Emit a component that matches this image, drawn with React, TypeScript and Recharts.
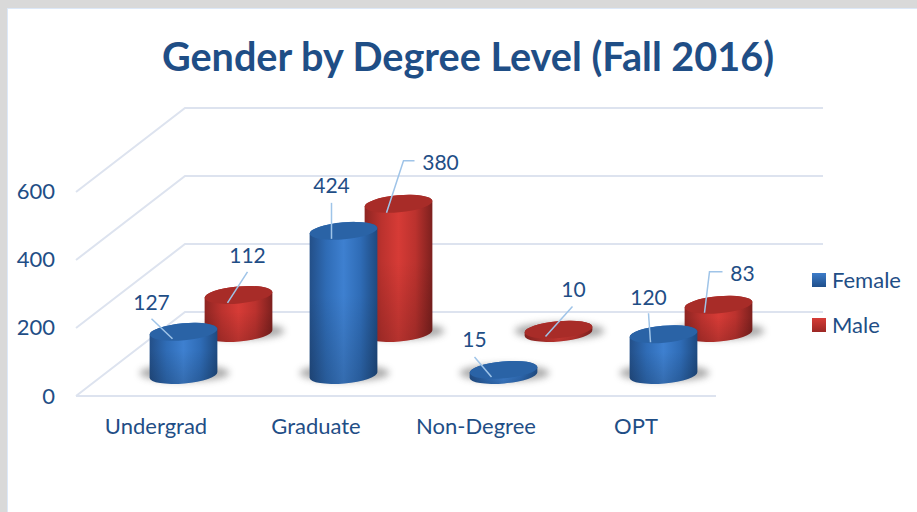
import { BarChart, Bar, XAxis, YAxis, CartesianGrid, Legend, LabelList } from "recharts";

const categories = ["Undergrad", "Graduate", "Non-Degree", "OPT"];
const femaleValues = [127, 424, 15, 120];
const maleValues = [112, 380, 10, 83];
const yTicks = [0, 200, 400, 600];

const chartData = categories.map((name, i) => ({
  name,
  Female: femaleValues[i],
  Male: maleValues[i],
}));

const FONT = "Lato, sans-serif";
const TEXT_COLOR = "#1f4e86";
const GRID_COLOR = "#dde3ef";
const LEADER_COLOR = "#9fc4e8";

// how far each series sits from its slot on the floor of the 3d box
const FEMALE_DEPTH = { dx: -0.5, dy: -21 };
const MALE_DEPTH = { dx: 109.5, dy: -63 };
const WALL = { dx: 109, dy: -84 };

// data label placement relative to the top of the cylinder, hand moved in the original
const femaleCallouts = [
  { label: [-32, -30], line: [[-32, -13], [-11, 7]] },
  { label: [-12, -46], line: [[-12, -28], [-12, 8]] },
  { label: [-29, -31], line: [[-29, -13], [-12, 7]] },
  { label: [-15, -38], line: [[-15, -21], [-13, 8]] },
];
const maleCallouts = [
  { label: [9, -40], line: [[9, -23], [-11, 8]] },
  { label: [42, -42], line: [[16, -43], [5, -43], [-12, 9]] },
  { label: [15, -41], line: [[14, -23], [-13, 7]] },
  { label: [24, -32], line: [[4, -33], [-9, -33], [-14, 8]] },
];

const RY = 8.5;
const TILT = -5;

const Cylinder = (props: any) => {
  const { x, y, width, height, depth, body, top } = props;
  const rx = width / 2;
  const cx = x + rx + depth.dx;
  const yTop = y + depth.dy;
  const yBase = y + height + depth.dy;
  const ex = rx * Math.cos((TILT * Math.PI) / 180);
  const ey = rx * Math.sin((TILT * Math.PI) / 180);
  const arc = `${rx} ${RY} ${TILT}`;
  const d =
    `M ${cx - ex} ${yTop - ey} L ${cx - ex} ${yBase - ey} ` +
    `A ${arc} 0 0 ${cx + ex} ${yBase + ey} L ${cx + ex} ${yTop + ey} ` +
    `A ${arc} 0 0 ${cx - ex} ${yTop - ey} Z`;
  return (
    <g>
      <ellipse cx={cx + 1} cy={yBase - 2} rx={rx + 11} ry={RY} fill="#666" opacity={0.55} filter="url(#floorShadow)" />
      <path d={d} fill={body} />
      <path d={d} fill="url(#bodyShade)" />
      <ellipse cx={cx} cy={yTop} rx={rx} ry={RY} fill={top} transform={`rotate(${TILT} ${cx} ${yTop})`} />
    </g>
  );
};

const Callout = (props: any) => {
  const { x, y, width, value, index, depth, callouts } = props;
  const c = callouts[index];
  const cx = x + width / 2 + depth.dx;
  const cy = y + depth.dy;
  const pts = c.line.map((p: number[]) => `${cx + p[0]},${cy + p[1]}`).join(" ");
  return (
    <g>
      <polyline points={pts} fill="none" stroke={LEADER_COLOR} strokeWidth={1.5} />
      <text
        x={cx + c.label[0]}
        y={cy + c.label[1]}
        textAnchor="middle"
        dominantBaseline="central"
        fontFamily={FONT}
        fontSize={21}
        fill={TEXT_COLOR}
      >
        {value}
      </text>
    </g>
  );
};

const GridLine = (props: any) => {
  const { x1, y1, x2 } = props;
  const backY = y1 + WALL.dy;
  return (
    <path
      key={props.key}
      d={`M ${x1} ${y1} L ${x1 + WALL.dx} ${backY} L ${x2 + 107} ${backY}`}
      fill="none"
      stroke={GRID_COLOR}
      strokeWidth={2}
    />
  );
};

const YTick = (props: any) => {
  const { x, y, payload } = props;
  return (
    <text
      x={x}
      y={y}
      dy={payload.value === 0 ? -1 : -2}
      textAnchor="end"
      dominantBaseline="central"
      fontFamily={FONT}
      fontSize={22}
      fill={TEXT_COLOR}
    >
      {payload.value}
    </text>
  );
};

const swatches: Record<string, string> = {
  Female: "url(#femaleSwatch)",
  Male: "url(#maleSwatch)",
};

const LegendBox = (props: any) => {
  const items = [...props.payload].sort((a: any, b: any) => String(a.value).localeCompare(String(b.value)));
  return (
    <div style={{ fontFamily: FONT, fontSize: 22, color: TEXT_COLOR }}>
      {items.map((item: any) => (
        <div key={item.value} style={{ display: "flex", alignItems: "center", height: 45 }}>
          <svg width={14} height={14} style={{ marginRight: 6 }}>
            <rect width={14} height={14} fill={swatches[item.value]} />
          </svg>
          {item.value}
        </div>
      ))}
    </div>
  );
};

export default function App() {
  return (
    <div style={{ position: "absolute", left: 0, top: 0, width: 917, height: 512, background: "#d9d9d9", overflow: "hidden" }}>
      <div
        style={{
          position: "absolute",
          left: 7,
          top: 8,
          width: 910,
          height: 504,
          background: "#fff",
          borderTop: "1px solid #dce8f8",
          borderLeft: "1px solid #dce8f8",
          boxSizing: "border-box",
        }}
      />
      <div
        style={{
          position: "absolute",
          left: 0,
          width: 936,
          top: 32,
          textAlign: "center",
          fontFamily: FONT,
          fontWeight: 700,
          fontSize: 39.6,
          lineHeight: "48px",
          color: TEXT_COLOR,
        }}
      >
        Gender by Degree Level (Fall 2016)
      </div>
      <div style={{ position: "absolute", left: 0, top: 0 }}>
        <BarChart
          width={917}
          height={512}
          data={chartData}
          margin={{ top: 192, right: 96, bottom: 80, left: 0 }}
          barSize={68}
          barGap={-13}
          barCategoryGap={0}
        >
          <defs>
            <filter id="floorShadow" x="-30%" y="-100%" width="160%" height="300%">
              <feGaussianBlur stdDeviation="3.5" />
            </filter>
            <linearGradient id="femaleBody" x1="0" y1="0" x2="1" y2="0">
              <stop offset="0" stopColor="#234f88" />
              <stop offset="0.25" stopColor="#2f6cb6" />
              <stop offset="0.5" stopColor="#3e80d0" />
              <stop offset="0.75" stopColor="#2f6cb6" />
              <stop offset="1" stopColor="#1e4a80" />
            </linearGradient>
            <linearGradient id="maleBody" x1="0" y1="0" x2="1" y2="0">
              <stop offset="0" stopColor="#8e2522" />
              <stop offset="0.25" stopColor="#bb322e" />
              <stop offset="0.5" stopColor="#d63b36" />
              <stop offset="0.75" stopColor="#bb322e" />
              <stop offset="1" stopColor="#7c201e" />
            </linearGradient>
            <linearGradient id="bodyShade" x1="0" y1="0" x2="0" y2="1">
              <stop offset="0.45" stopColor="#000" stopOpacity="0" />
              <stop offset="1" stopColor="#000" stopOpacity="0.16" />
            </linearGradient>
            <linearGradient id="femaleSwatch" x1="0" y1="0" x2="0" y2="1">
              <stop offset="0" stopColor="#3d7cc9" />
              <stop offset="1" stopColor="#1f4f8b" />
            </linearGradient>
            <linearGradient id="maleSwatch" x1="0" y1="0" x2="0" y2="1">
              <stop offset="0" stopColor="#d63c37" />
              <stop offset="1" stopColor="#9c2724" />
            </linearGradient>
          </defs>
          <CartesianGrid vertical={false} horizontal={GridLine} />
          <XAxis
            dataKey="name"
            height={36}
            tickLine={false}
            tickSize={0}
            tickMargin={22}
            axisLine={{ stroke: GRID_COLOR, strokeWidth: 2 }}
            tick={{ fontFamily: FONT, fontSize: 22, fill: TEXT_COLOR }}
            interval={0}
          />
          <YAxis
            width={76}
            domain={[0, 600]}
            ticks={yTicks}
            axisLine={false}
            tickLine={false}
            tickSize={0}
            tickMargin={21}
            tick={YTick}
          />
          <Legend
            layout="vertical"
            align="right"
            verticalAlign="top"
            content={LegendBox}
            wrapperStyle={{ position: "absolute", left: 812, top: 257, width: 105 }}
          />
          {/* male first so the female cylinders paint over them, slots are moved by the depth offsets */}
          <Bar
            dataKey="Male"
            fill="#c0312d"
            isAnimationActive={false}
            shape={(p: any) => <Cylinder {...p} depth={MALE_DEPTH} body="url(#maleBody)" top="#a82c28" />}
          >
            <LabelList
              dataKey="Male"
              content={(p: any) => <Callout {...p} depth={MALE_DEPTH} callouts={maleCallouts} />}
            />
          </Bar>
          <Bar
            dataKey="Female"
            fill="#2b66ad"
            isAnimationActive={false}
            shape={(p: any) => <Cylinder {...p} depth={FEMALE_DEPTH} body="url(#femaleBody)" top="#2a63a6" />}
          >
            <LabelList
              dataKey="Female"
              content={(p: any) => <Callout {...p} depth={FEMALE_DEPTH} callouts={femaleCallouts} />}
            />
          </Bar>
        </BarChart>
      </div>
    </div>
  );
}
